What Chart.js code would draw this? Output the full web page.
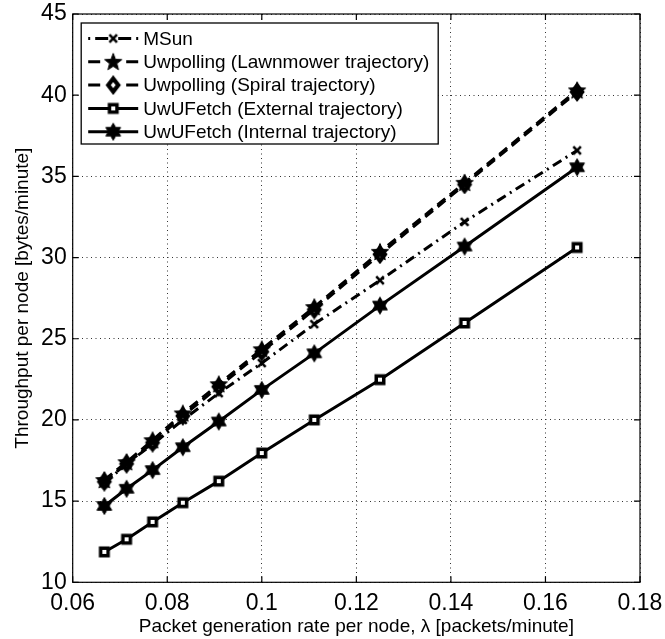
<!DOCTYPE html>
<html>
<head>
<meta charset="utf-8">
<script src="https://cdn.jsdelivr.net/npm/chart.js@4/dist/chart.umd.min.js"></script>
<style>
  html, body { margin: 0; padding: 0; background: #fff; }
  #wrap { width: 665px; height: 639px; }
</style>
</head>
<body>
<div id="wrap"><canvas id="chart" width="665" height="639"></canvas></div>
<script>
// Packet generation rate per node (packets/minute)
const rates = [0.0667, 0.0714, 0.0769, 0.0833, 0.0909, 0.1, 0.1111, 0.125, 0.1429, 0.1667];

// Throughput per node (bytes/minute)
const msun        = [16.1, 17.3, 18.5, 20.0, 21.65, 23.5, 25.9, 28.6, 32.2, 36.6];
const lawnmower   = [16.3, 17.4, 18.75, 20.4, 22.2, 24.35, 26.95, 30.35, 34.6, 40.3];
const spiral      = [16.2, 17.3, 18.6, 20.25, 22.05, 24.2, 26.8, 30.2, 34.5, 40.2];
const external    = [11.87, 12.65, 13.72, 14.9, 16.23, 17.96, 20.0, 22.48, 25.97, 30.62];
const internal    = [14.7, 15.76, 16.91, 18.32, 19.9, 21.85, 24.1, 27.04, 30.68, 35.56];

const seriesNames = [
  'MSun',
  'Uwpolling (Lawnmower trajectory)',
  'Uwpolling (Spiral trajectory)',
  'UwUFetch (External trajectory)',
  'UwUFetch (Internal trajectory)'
];

const xTickValues = [0.06, 0.08, 0.10, 0.12, 0.14, 0.16, 0.18];
const xTickLabels = ['0.06', '0.08', '0.1', '0.12', '0.14', '0.16', '0.18'];
const yTickValues = [10, 15, 20, 25, 30, 35, 40, 45];
const yTickLabels = ['10', '15', '20', '25', '30', '35', '40', '45'];

// ---- marker sprites ----
function sprite(size, draw) {
  const c = document.createElement('canvas');
  c.width = size; c.height = size;
  const g = c.getContext('2d');
  draw(g, size / 2);
  return c;
}
function starPath(g, cx, cy, n, ro, ri) {
  g.beginPath();
  for (let i = 0; i < 2 * n; i++) {
    const r = i % 2 === 0 ? ro : ri;
    const a = -Math.PI / 2 + i * Math.PI / n;
    const px = cx + r * Math.cos(a), py = cy + r * Math.sin(a);
    if (i === 0) g.moveTo(px, py); else g.lineTo(px, py);
  }
  g.closePath();
}
const pentagram = sprite(22, (g, c) => {
  starPath(g, c, c + 0.6, 5, 9, 3.8);
  g.fillStyle = '#000'; g.fill();
  g.lineWidth = 1; g.strokeStyle = '#000'; g.stroke();
});
const hexagram = sprite(22, (g, c) => {
  starPath(g, c, c, 6, 8.5, 4.9);
  g.fillStyle = '#000'; g.fill();
  g.lineWidth = 1; g.strokeStyle = '#000'; g.stroke();
});
const diamond = sprite(20, (g, c) => {
  g.beginPath();
  g.moveTo(c, c - 6.5); g.lineTo(c + 5, c); g.lineTo(c, c + 6.5); g.lineTo(c - 5, c);
  g.closePath();
  g.fillStyle = '#fff'; g.fill();
  g.lineWidth = 4.2; g.strokeStyle = '#000'; g.stroke();
});
const square = sprite(16, (g, c) => {
  g.fillStyle = '#000'; g.fillRect(c - 5.5, c - 5.5, 11, 11);
  g.fillStyle = '#fff'; g.fillRect(c - 2, c - 2, 4, 4);
});
const cross = sprite(14, (g, c) => {
  g.strokeStyle = '#000'; g.lineWidth = 2.6; g.lineCap = 'butt';
  g.beginPath();
  g.moveTo(c - 3.8, c - 3.8); g.lineTo(c + 3.8, c + 3.8);
  g.moveTo(c + 3.8, c - 3.8); g.lineTo(c - 3.8, c + 3.8);
  g.stroke();
});

const DASH = [10, 6];
const DASHDOT = [10, 5, 2, 5];

const styles = [
  { dash: DASHDOT, key: [2, 5, 13, 10, 13, 5, 2], marker: cross },
  { dash: DASH,    key: [12, 26, 12],             marker: pentagram },
  { dash: DASH,    key: [12, 26, 12],             marker: diamond },
  { dash: [],      key: [],                       marker: square },
  { dash: [],      key: [],                       marker: hexagram }
];
const seriesValues = [msun, lawnmower, spiral, external, internal];

const datasets = seriesValues.map((vals, k) => ({
  label: seriesNames[k],
  data: rates.map((x, i) => ({ x: x, y: vals[i] })),
  borderColor: '#000',
  backgroundColor: '#000',
  borderWidth: 3,
  borderDash: styles[k].dash,
  pointStyle: styles[k].marker,
  pointRadius: 6,
  fill: false,
  tension: 0,
  order: [3, 1, 2, 4, 5][k]
}));

// frame with inward ticks on all four sides
const framePlugin = {
  id: 'frame',
  afterDatasetsDraw(chart) {
    const { ctx, chartArea: a, scales } = chart;
    ctx.save();
    ctx.strokeStyle = '#000';
    ctx.lineWidth = 1.2;
    ctx.setLineDash([]);
    ctx.strokeRect(a.left, a.top, a.right - a.left, a.bottom - a.top);
    const t = 6;
    ctx.beginPath();
    xTickValues.forEach(v => {
      const px = scales.x.getPixelForValue(v);
      ctx.moveTo(px, a.bottom); ctx.lineTo(px, a.bottom - t);
      ctx.moveTo(px, a.top); ctx.lineTo(px, a.top + t);
    });
    yTickValues.forEach(v => {
      const py = scales.y.getPixelForValue(v);
      ctx.moveTo(a.left, py); ctx.lineTo(a.left + t, py);
      ctx.moveTo(a.right, py); ctx.lineTo(a.right - t, py);
    });
    ctx.stroke();
    ctx.restore();
  }
};

// boxed legend in the upper-left corner of the plot
const legendPlugin = {
  id: 'boxLegend',
  afterDraw(chart) {
    const { ctx, chartArea: a } = chart;
    const bx = a.left + 8.5, by = a.top + 9, bw = 357, bh = 121;
    ctx.save();
    ctx.fillStyle = '#fff';
    ctx.fillRect(bx, by, bw, bh);
    ctx.strokeStyle = '#000';
    ctx.lineWidth = 1.3;
    ctx.strokeRect(bx, by, bw, bh);
    ctx.font = '19px "Liberation Sans", Arial, sans-serif';
    ctx.textBaseline = 'middle';
    ctx.textAlign = 'left';
    ctx.fillStyle = '#000';
    seriesNames.forEach((name, k) => {
      const cy = by + 15.5 + k * 23.3;
      const x0 = bx + 7, x1 = bx + 57, xm = (x0 + x1) / 2;
      ctx.save();
      ctx.lineWidth = 3;
      ctx.setLineDash(styles[k].key);
      ctx.beginPath();
      ctx.moveTo(x0, cy); ctx.lineTo(x1, cy);
      ctx.stroke();
      ctx.restore();
      const m = styles[k].marker;
      ctx.drawImage(m, xm - m.width / 2, cy - m.height / 2);
      ctx.fillText(name, bx + 62, cy + 1);
    });
    ctx.restore();
  }
};

const tickFont = { family: '"Liberation Sans", Arial, sans-serif', size: 23 };
const titleFont = { family: '"Liberation Sans", Arial, sans-serif', size: 19 };

new Chart(document.getElementById('chart'), {
  type: 'line',
  data: { datasets: datasets },
  options: {
    responsive: false,
    animation: false,
    devicePixelRatio: 1,
    layout: { padding: { left: 0, top: 14, right: 25, bottom: 0 } },
    plugins: { legend: { display: false }, tooltip: { enabled: false } },
    scales: {
      x: {
        type: 'linear',
        min: 0.06, max: 0.18,
        afterBuildTicks: s => { s.ticks = xTickValues.map(v => ({ value: v })); },
        afterFit: s => { s.height = 56.7; s.paddingLeft = 0; s.paddingRight = 0; },
        ticks: {
          color: '#000', font: tickFont, padding: 8, maxRotation: 0, autoSkip: false,
          callback: (v, i) => xTickLabels[i]
        },
        grid: { color: '#333', lineWidth: 1, drawTicks: false },
        border: { display: false, dash: [1, 3.5] },
        title: {
          display: true, text: 'Packet generation rate per node, λ [packets/minute]',
          color: '#000', font: titleFont, padding: { top: 0, bottom: 1 }
        }
      },
      y: {
        type: 'linear',
        min: 10, max: 45,
        afterBuildTicks: s => { s.ticks = yTickValues.map(v => ({ value: v })); },
        afterFit: s => { s.width = 72.7; s.paddingTop = 0; s.paddingBottom = 0; },
        ticks: {
          color: '#000', font: tickFont, padding: 6, autoSkip: false,
          callback: (v, i) => yTickLabels[i]
        },
        grid: { color: '#333', lineWidth: 1, drawTicks: false },
        border: { display: false, dash: [1, 3.5] },
        title: {
          display: true, text: 'Throughput per node [bytes/minute]',
          color: '#000', font: titleFont, padding: { top: 11, bottom: 0 }
        }
      }
    }
  },
  plugins: [framePlugin, legendPlugin]
});
</script>
</body>
</html>
